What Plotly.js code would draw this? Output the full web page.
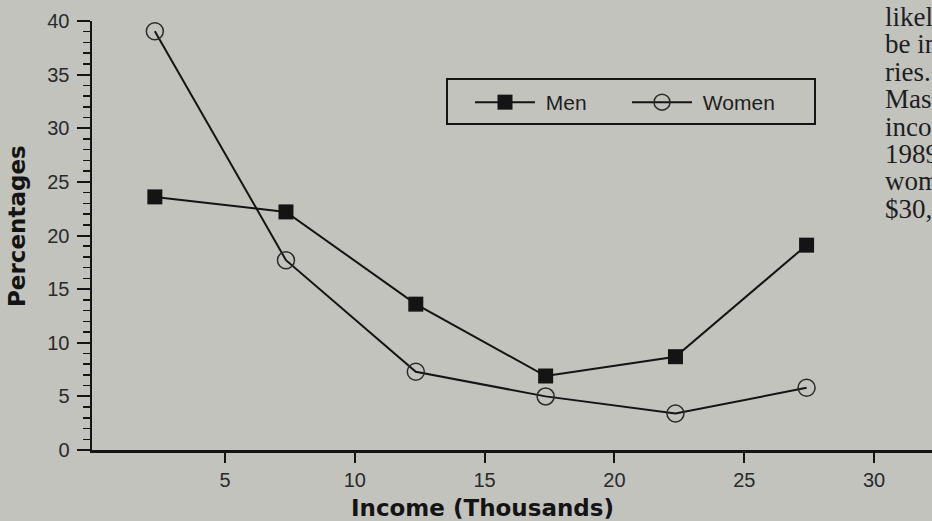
<!DOCTYPE html>
<html>
<head>
<meta charset="utf-8">
<script src="https://cdn.plot.ly/plotly-3.0.1.min.js"></script>
<style>
  html, body { margin: 0; padding: 0; background: #c3c3bd; }
  #chart { width: 932px; height: 521px; }
</style>
</head>
<body>
<div id="chart"></div>
<script>
// ---- data ----
const incomeX = [2.3, 7.35, 12.35, 17.35, 22.35, 27.4];
const menPct = [23.6, 22.2, 13.6, 6.9, 8.7, 19.1];
const womenPct = [39.05, 17.7, 7.3, 5.0, 3.4, 5.8];
const xTickVals = [5, 10, 15, 20, 25, 30];
const xTickText = ['5', '10', '15', '20', '25', '30'];
const seriesNames = ['Men', 'Women'];
const xTitle = 'Income (Thousands)';
const yTitle = 'Percentages';
const sideText = ['likely', 'be in', 'ries.', 'Mass', 'income', '1989', 'women', '$30,'];

// ---- layout geometry (pixels) ----
const W = 932, H = 521;
const mL = 92, mR = 0, mT = 21, mB = 71;
const pw = W - mL - mR, ph = H - mT - mB;
const px2x = p => (p - mL) / pw;
const py2y = p => (H - mB - p) / ph;

const ink = '#141414';
const bg = '#c3c3bd';
const nb = '\u00a0';

const traces = [
  {
    x: incomeX, y: menPct, name: nb + seriesNames[0],
    type: 'scatter', mode: 'lines+markers',
    line: { color: ink, width: 2 },
    marker: { symbol: 'square', size: 15, color: ink }
  },
  {
    x: incomeX, y: womenPct, name: nb + seriesNames[1],
    type: 'scatter', mode: 'lines+markers',
    line: { color: ink, width: 2 },
    marker: { symbol: 'circle-open', size: 17, color: '#2a2a2a', line: { width: 1.5 } }
  }
];

const annotations = [
  {
    text: '<b>' + xTitle + '</b>', xref: 'paper', yref: 'paper',
    x: px2x(482), y: py2y(508), xanchor: 'center', yanchor: 'middle',
    showarrow: false, font: { family: 'DejaVu Sans', size: 23, color: ink }
  },
  {
    text: '<b>' + yTitle + '</b>', xref: 'paper', yref: 'paper',
    x: px2x(17), y: py2y(226), xanchor: 'center', yanchor: 'middle',
    textangle: -90,
    showarrow: false, font: { family: 'DejaVu Sans', size: 23, color: ink }
  }
];
sideText.forEach((t, i) => {
  annotations.push({
    text: t, xref: 'paper', yref: 'paper',
    x: px2x(883), y: py2y(17 + i * 27.4), xanchor: 'left', yanchor: 'middle',
    showarrow: false, font: { family: 'Liberation Serif', size: 27, color: '#1e1e1e' }
  });
});

const layout = {
  width: W, height: H,
  margin: { l: mL, r: mR, t: mT, b: mB, pad: 0 },
  paper_bgcolor: bg, plot_bgcolor: bg,
  font: { family: 'Liberation Sans', size: 21, color: '#2a2a2a' },
  showlegend: true,
  legend: {
    orientation: 'h', x: px2x(470), y: py2y(82), xanchor: 'left', yanchor: 'top',
    bgcolor: 'rgba(0,0,0,0)', borderwidth: 0,
    font: { family: 'Liberation Sans', size: 21, color: '#1e1e1e' },
    itemwidth: 60, entrywidth: 82, entrywidthmode: 'pixels'
  },
  xaxis: {
    range: [-0.12, 32.23], showgrid: false, zeroline: false,
    showline: true, linecolor: ink, linewidth: 2.5,
    ticks: 'outside', ticklen: 10, tickwidth: 2, tickcolor: ink,
    tickvals: xTickVals, ticktext: xTickText,
    tickfont: { family: 'Liberation Sans', size: 20, color: '#2a2a2a' },
    fixedrange: true
  },
  yaxis: {
    range: [0, 40], dtick: 5, tick0: 0, showgrid: false, zeroline: false,
    showline: true, linecolor: ink, linewidth: 2.5,
    ticks: 'outside', ticklen: 13, tickwidth: 2, tickcolor: ink,
    ticklabelstandoff: 3,
    tickfont: { family: 'Liberation Sans', size: 20, color: '#2a2a2a' },
    minor: { dtick: 1, ticks: 'outside', ticklen: 7, tickwidth: 1.5, tickcolor: ink, showgrid: false },
    fixedrange: true
  },
  shapes: [
    {
      type: 'rect', xref: 'paper', yref: 'paper',
      x0: px2x(447), x1: px2x(815), y0: py2y(79), y1: py2y(124),
      line: { color: ink, width: 2 }, fillcolor: 'rgba(0,0,0,0)'
    }
  ],
  annotations: annotations
};

Plotly.newPlot('chart', traces, layout, { displayModeBar: false, staticPlot: true });
</script>
</body>
</html>
